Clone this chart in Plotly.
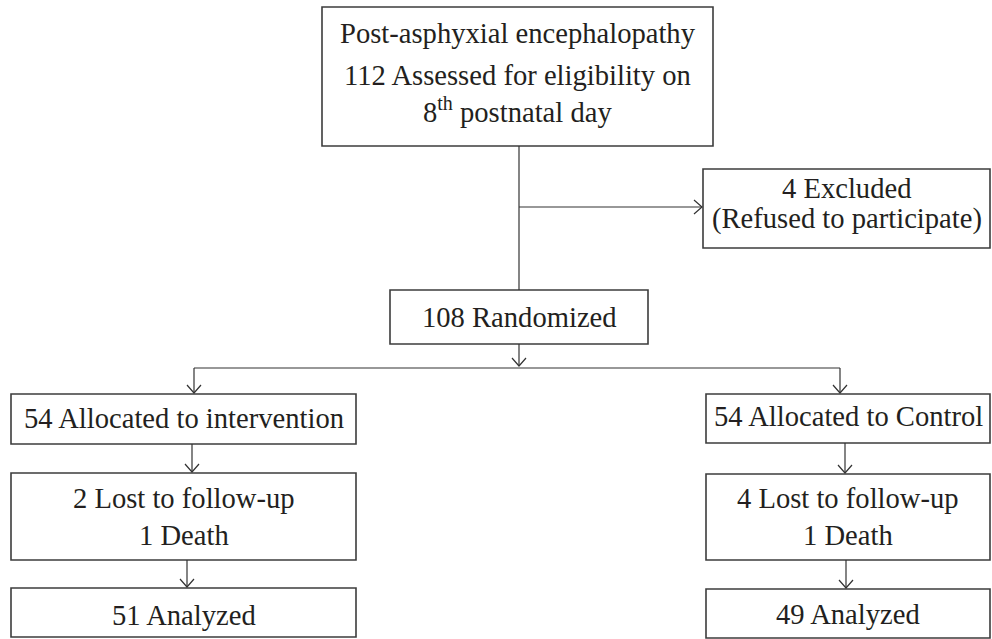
import plotly.graph_objects as go

# ---- content (text of each box) ----
box_names = ["screen", "excluded", "random", "alloc_int", "alloc_ctl",
             "lost_int", "lost_ctl", "anal_int", "anal_ctl"]
box_lines = [
    ["Post-asphyxial encephalopathy", "112 Assessed for eligibility on", "8<sup>th</sup> postnatal day"],
    ["4 Excluded", "(Refused to participate)"],
    ["108 Randomized"],
    ["54 Allocated to intervention"],
    ["54 Allocated to Control"],
    ["2 Lost to follow-up", "1 Death"],
    ["4 Lost to follow-up", "1 Death"],
    ["51 Analyzed"],
    ["49 Analyzed"],
]

# ---- layout geometry (pixel space, y downward) ----
box_x0 = [322, 703, 390, 11, 706, 11, 706, 11, 706]
box_x1 = [713, 990, 648, 356, 990, 356, 990, 356, 990]
box_y0 = [7, 169, 290, 394, 394, 473, 474, 588, 589]
box_y1 = [146, 248, 344, 444, 443, 560, 560, 637, 638]
line_y = [[33, 75, 110], [188, 219], [317], [418], [416], [498, 535], [498, 535], [615], [614]]

# connectors: (x0, y0, x1, y1, arrow_at_end)
connectors = [
    (519, 146, 519, 290, False),
    (519, 207, 702, 207, True),
    (519, 344, 519, 366, True),
    (194, 368, 840, 368, False),
    (194, 368, 194, 393, True),
    (840, 368, 840, 393, True),
    (192, 444, 192, 472, True),
    (845, 443, 845, 473, True),
    (187, 560, 187, 587, True),
    (846, 560, 846, 588, True),
]

FONT = "Liberation Serif, Times New Roman, serif"
TXT = "#231f20"
BORDER = "#3c3c3c"
LINE = "#333333"

fig = go.Figure()
fig.add_trace(go.Scatter(x=[0, 992], y=[0, 639], mode="markers",
                         marker=dict(opacity=0), hoverinfo="skip", showlegend=False))

shapes = []
annotations = []
for i, name in enumerate(box_names):
    shapes.append(dict(type="rect", xref="x", yref="y",
                       x0=box_x0[i], x1=box_x1[i], y0=box_y0[i], y1=box_y1[i],
                       line=dict(color=BORDER, width=1.6), fillcolor="white", layer="below"))
    cx = (box_x0[i] + box_x1[i]) / 2
    for txt, ty in zip(box_lines[i], line_y[i]):
        annotations.append(dict(x=cx, y=ty, xref="x", yref="y", text=txt,
                                showarrow=False, xanchor="center", yanchor="middle",
                                font=dict(family=FONT, size=28.6, color=TXT)))

for (x0, y0, x1, y1, arr) in connectors:
    shapes.append(dict(type="line", xref="x", yref="y", x0=x0, y0=y0, x1=x1, y1=y1,
                       line=dict(color=LINE, width=1.2)))
    if arr:
        if x0 == x1:  # downward chevron
            path = f"M {x1-7} {y1-8} L {x1} {y1} L {x1+7} {y1-8}"
        else:  # rightward chevron
            path = f"M {x1-8} {y1-7} L {x1} {y1} L {x1-8} {y1+7}"
        shapes.append(dict(type="path", xref="x", yref="y", path=path,
                           line=dict(color=LINE, width=1.2)))

fig.update_layout(
    width=992, height=639,
    margin=dict(l=0, r=0, t=0, b=0),
    paper_bgcolor="white", plot_bgcolor="white",
    xaxis=dict(range=[0, 992], visible=False, fixedrange=True),
    yaxis=dict(range=[639, 0], visible=False, fixedrange=True),
    shapes=shapes, annotations=annotations,
    showlegend=False,
)

fig.write_html("out.html", config={"displayModeBar": False},
               post_script="document.body.style.margin='0px';")
